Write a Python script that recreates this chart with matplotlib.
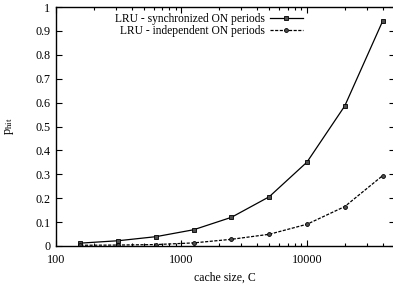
import matplotlib
matplotlib.use("Agg")
import matplotlib.pyplot as plt
from matplotlib.ticker import FixedLocator, NullFormatter

plt.rcParams["font.family"] = "Liberation Serif"
plt.rcParams["mathtext.fontset"] = "custom"
plt.rcParams["mathtext.rm"] = "Liberation Serif"
plt.rcParams["mathtext.it"] = "Liberation Serif:italic"

# data
cache_size = [156.25, 312.5, 625, 1250, 2500, 5000, 10000, 20000, 40000]
p_sync = [0.012, 0.022, 0.039, 0.068, 0.12, 0.206, 0.351, 0.586, 0.94]
p_indep = [0.003, 0.004, 0.006, 0.013, 0.028, 0.049, 0.091, 0.165, 0.294]
y_ticks = [0, 0.1, 0.2, 0.3, 0.4, 0.5, 0.6, 0.7, 0.8, 0.9, 1]
y_labels = ["0", "0.1", "0.2", "0.3", "0.4", "0.5", "0.6", "0.7", "0.8", "0.9", "1"]

fig = plt.figure(figsize=(3.93, 2.87), dpi=100)
ax = fig.add_axes([56 / 393, 1 - 246 / 287, (394.7 - 56) / 393, (246 - 7) / 287])

ax.plot(cache_size, p_sync, color="black", lw=0.9, marker="s", ms=3,
        mfc="0.3", mec="black", mew=0.6, label="LRU - synchronized ON periods")
ax.plot(cache_size, p_indep, color="black", lw=0.9, ls=(0, (2.5, 1.2)), marker="o", ms=2.8,
        mfc="0.3", mec="black", mew=0.6, label="LRU - independent ON periods")

ax.set_xscale("log")
ax.set_xlim(100, 50000)
ax.set_ylim(0, 1)
ax.set_xticks([100, 1000, 10000])
ax.set_xticklabels(["100", "1000", "10000"])
ax.xaxis.set_minor_locator(FixedLocator([m * 10 ** e for e in (2, 3, 4) for m in range(2, 10)]))
ax.xaxis.set_minor_formatter(NullFormatter())
ax.set_yticks(y_ticks)
ax.set_yticklabels(y_labels)

ax.tick_params(which="both", direction="in", top=True, right=True, labelsize=8.7, width=0.8)
ax.tick_params(axis="x", pad=6)
ax.tick_params(axis="y", pad=4)
ax.tick_params(which="major", length=4)
ax.tick_params(which="minor", length=2.5)
for s in ax.spines.values():
    s.set_linewidth(1.0)

ax.set_xlabel("cache size, C", fontsize=8.5, labelpad=4)
ax.set_ylabel(r"$\mathrm{p_{hit}}$", fontsize=9, labelpad=14)

ax.legend(loc="upper right", bbox_to_anchor=(0.748, 1.0), frameon=False, fontsize=8.3,
          markerfirst=False, handlelength=2.9, handletextpad=0.45, labelspacing=0.0,
          borderaxespad=0.15)

fig.savefig("out.png", dpi=100)
